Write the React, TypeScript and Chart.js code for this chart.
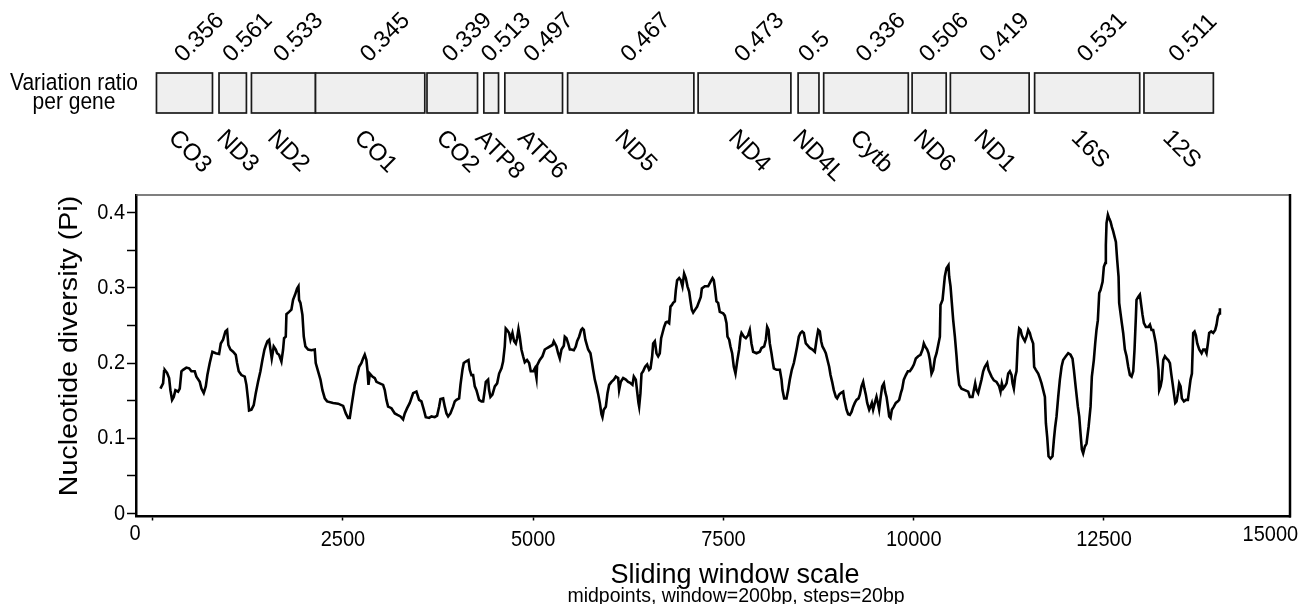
import React, { useEffect, useRef } from 'react';
import { Chart, registerables } from 'chart.js';

Chart.register(...registerables);

const FONT = '"Liberation Sans", Arial, Helvetica, sans-serif';

// Sliding-window midpoints (bp) and nucleotide diversity (Pi)
const POSITIONS = [
  101, 136, 149, 158, 188, 215, 232, 254, 276, 298, 333, 355, 377, 399, 442, 478, 508, 552, 574, 618,
  640, 670, 697, 718, 749, 784, 828, 872, 894, 924, 955, 977, 994, 1021, 1056, 1091, 1108, 1130, 1165, 1209,
  1231, 1253, 1266, 1297, 1327, 1354, 1384, 1415, 1441, 1468, 1485, 1507, 1529, 1547, 1564, 1590, 1617, 1634, 1660, 1691,
  1713, 1726, 1748, 1757, 1792, 1822, 1844, 1871, 1897, 1915, 1923, 1941, 1967, 1985, 2006, 2042, 2085, 2129, 2142, 2173,
  2204, 2230, 2261, 2291, 2370, 2436, 2502, 2537, 2567, 2589, 2611, 2655, 2686, 2712, 2743, 2764, 2786, 2808, 2821, 2835,
  2852, 2887, 2918, 2940, 2983, 3027, 3049, 3071, 3093, 3137, 3181, 3216, 3255, 3290, 3312, 3343, 3378, 3422, 3465, 3500,
  3531, 3562, 3588, 3632, 3663, 3706, 3737, 3763, 3781, 3816, 3838, 3860, 3882, 3912, 3947, 3969, 3991, 4026, 4044, 4070,
  4087, 4114, 4149, 4166, 4188, 4210, 4232, 4254, 4289, 4320, 4342, 4363, 4377, 4407, 4420, 4438, 4464, 4495, 4526, 4552,
  4583, 4604, 4626, 4639, 4657, 4683, 4701, 4727, 4749, 4771, 4788, 4806, 4823, 4845, 4867, 4889, 4919, 4946, 4968, 4999,
  5021, 5043, 5051, 5086, 5121, 5152, 5183, 5218, 5253, 5270, 5305, 5327, 5349, 5371, 5402, 5415, 5437, 5459, 5481, 5503,
  5533, 5559, 5577, 5603, 5630, 5647, 5665, 5685, 5722, 5752, 5770, 5787, 5809, 5831, 5853, 5875, 5897, 5910, 5927, 5954,
  5976, 5998, 6028, 6059, 6085, 6116, 6129, 6151, 6182, 6217, 6247, 6269, 6304, 6322, 6348, 6366, 6383, 6392, 6409, 6423,
  6444, 6471, 6497, 6523, 6541, 6563, 6576, 6598, 6620, 6642, 6663, 6681, 6699, 6720, 6742, 6760, 6786, 6804, 6821, 6839,
  6861, 6874, 6891, 6918, 6940, 6961, 6983, 7005, 7027, 7049, 7067, 7084, 7102, 7128, 7154, 7202, 7216, 7255, 7299, 7329,
  7356, 7373, 7391, 7408, 7430, 7452, 7496, 7518, 7540, 7553, 7575, 7592, 7614, 7636, 7658, 7680, 7706, 7724, 7737, 7768,
  7794, 7824, 7846, 7868, 7890, 7934, 7978, 8000, 8035, 8057, 8074, 8092, 8109, 8131, 8144, 8162, 8197, 8241, 8263, 8276,
  8298, 8328, 8350, 8372, 8398, 8425, 8451, 8468, 8490, 8512, 8534, 8556, 8582, 8600, 8635, 8670, 8701, 8723, 8745, 8766,
  8784, 8801, 8823, 8845, 8867, 8889, 8907, 8928, 8950, 8977, 8994, 9020, 9042, 9073, 9086, 9099, 9117, 9139, 9161, 9183,
  9205, 9226, 9248, 9275, 9292, 9314, 9336, 9353, 9371, 9389, 9415, 9432, 9450, 9467, 9489, 9511, 9529, 9546, 9564, 9586,
  9608, 9625, 9643, 9664, 9678, 9695, 9713, 9739, 9765, 9792, 9809, 9831, 9849, 9870, 9897, 9923, 9949, 9976, 10002, 10028,
  10059, 10089, 10116, 10133, 10151, 10177, 10195, 10212, 10234, 10256, 10278, 10300, 10322, 10344, 10352, 10379, 10409, 10431, 10457, 10466,
  10484, 10501, 10519, 10541, 10563, 10576, 10598, 10628, 10672, 10716, 10738, 10773, 10790, 10808, 10825, 10847, 10869, 10891, 10913, 10935,
  10966, 10983, 11023, 11053, 11088, 11123, 11141, 11158, 11176, 11198, 11220, 11242, 11264, 11286, 11299, 11316, 11334, 11351, 11369, 11386,
  11404, 11421, 11439, 11461, 11483, 11505, 11526, 11544, 11570, 11583, 11605, 11636, 11658, 11680, 11702, 11724, 11737, 11754, 11772, 11798,
  11824, 11842, 11859, 11877, 11899, 11921, 11943, 11964, 11999, 12030, 12061, 12087, 12105, 12131, 12157, 12175, 12192, 12210, 12227, 12249,
  12271, 12298, 12324, 12341, 12367, 12385, 12402, 12420, 12438, 12455, 12482, 12499, 12517, 12525, 12534, 12552, 12569, 12587, 12604, 12622,
  12639, 12657, 12674, 12692, 12700, 12718, 12735, 12753, 12775, 12797, 12819, 12841, 12863, 12885, 12902, 12920, 12928, 12950, 12972, 12990,
  13007, 13025, 13051, 13082, 13104, 13125, 13147, 13165, 13182, 13200, 13217, 13226, 13244, 13261, 13279, 13301, 13323, 13345, 13367, 13384,
  13402, 13419, 13437, 13454, 13472, 13489, 13507, 13524, 13551, 13577, 13603, 13620, 13638, 13656, 13673, 13691, 13708, 13726, 13752, 13783,
  13805, 13826, 13848, 13866, 13883, 13910, 13936, 13962, 13980, 13997, 14015, 14024,
];

const PI = [
  0.166, 0.173, 0.189, 0.191, 0.187, 0.180, 0.164, 0.151, 0.155, 0.164, 0.162, 0.166, 0.189, 0.191, 0.194, 0.193, 0.189, 0.189, 0.182, 0.175,
  0.166, 0.160, 0.169, 0.184, 0.200, 0.215, 0.213, 0.212, 0.226, 0.231, 0.242, 0.244, 0.224, 0.218, 0.215, 0.211, 0.200, 0.189, 0.184, 0.182,
  0.171, 0.151, 0.137, 0.138, 0.144, 0.160, 0.175, 0.189, 0.204, 0.218, 0.223, 0.229, 0.231, 0.218, 0.206, 0.222, 0.218, 0.213, 0.211, 0.202,
  0.218, 0.233, 0.235, 0.265, 0.268, 0.271, 0.284, 0.291, 0.299, 0.302, 0.284, 0.280, 0.264, 0.235, 0.222, 0.218, 0.217, 0.218, 0.200, 0.189,
  0.178, 0.164, 0.153, 0.149, 0.147, 0.146, 0.143, 0.133, 0.127, 0.127, 0.142, 0.171, 0.184, 0.195, 0.200, 0.206, 0.211, 0.204, 0.191, 0.171,
  0.186, 0.182, 0.180, 0.175, 0.173, 0.171, 0.164, 0.151, 0.142, 0.140, 0.133, 0.131, 0.129, 0.125, 0.133, 0.140, 0.147, 0.160, 0.162, 0.151,
  0.149, 0.138, 0.128, 0.127, 0.129, 0.128, 0.130, 0.142, 0.152, 0.153, 0.142, 0.133, 0.129, 0.133, 0.142, 0.149, 0.151, 0.153, 0.171, 0.191,
  0.200, 0.202, 0.204, 0.191, 0.184, 0.184, 0.169, 0.164, 0.151, 0.149, 0.149, 0.164, 0.175, 0.178, 0.164, 0.155, 0.158, 0.169, 0.173, 0.186,
  0.193, 0.202, 0.222, 0.246, 0.244, 0.240, 0.231, 0.240, 0.229, 0.226, 0.233, 0.245, 0.235, 0.218, 0.209, 0.201, 0.204, 0.200, 0.189, 0.189,
  0.193, 0.180, 0.197, 0.204, 0.209, 0.218, 0.220, 0.222, 0.224, 0.229, 0.222, 0.213, 0.206, 0.218, 0.223, 0.235, 0.233, 0.226, 0.218, 0.218,
  0.217, 0.222, 0.229, 0.235, 0.244, 0.246, 0.244, 0.231, 0.218, 0.213, 0.202, 0.191, 0.178, 0.169, 0.159, 0.147, 0.132, 0.128, 0.138, 0.142,
  0.160, 0.171, 0.175, 0.178, 0.182, 0.180, 0.164, 0.175, 0.180, 0.178, 0.175, 0.174, 0.171, 0.182, 0.178, 0.162, 0.147, 0.142, 0.160, 0.186,
  0.189, 0.195, 0.198, 0.191, 0.193, 0.209, 0.226, 0.229, 0.213, 0.209, 0.213, 0.233, 0.240, 0.248, 0.254, 0.255, 0.253, 0.275, 0.277, 0.280,
  0.282, 0.297, 0.310, 0.313, 0.310, 0.302, 0.319, 0.313, 0.302, 0.295, 0.282, 0.271, 0.267, 0.271, 0.275, 0.288, 0.299, 0.302, 0.302, 0.308,
  0.313, 0.310, 0.297, 0.282, 0.280, 0.268, 0.266, 0.263, 0.253, 0.235, 0.231, 0.222, 0.213, 0.195, 0.186, 0.202, 0.218, 0.235, 0.240, 0.235,
  0.233, 0.237, 0.244, 0.226, 0.215, 0.213, 0.215, 0.220, 0.222, 0.231, 0.248, 0.244, 0.226, 0.213, 0.204, 0.193, 0.191, 0.191, 0.178, 0.164,
  0.153, 0.153, 0.164, 0.178, 0.191, 0.200, 0.213, 0.222, 0.235, 0.240, 0.242, 0.240, 0.226, 0.224, 0.220, 0.218, 0.215, 0.231, 0.244, 0.242,
  0.229, 0.222, 0.218, 0.213, 0.204, 0.195, 0.184, 0.175, 0.164, 0.155, 0.153, 0.158, 0.160, 0.162, 0.153, 0.147, 0.138, 0.132, 0.131, 0.135,
  0.142, 0.147, 0.151, 0.153, 0.158, 0.169, 0.175, 0.166, 0.158, 0.147, 0.138, 0.142, 0.147, 0.138, 0.147, 0.155, 0.147, 0.138, 0.153, 0.169,
  0.173, 0.162, 0.155, 0.140, 0.129, 0.127, 0.138, 0.142, 0.147, 0.149, 0.151, 0.160, 0.166, 0.178, 0.184, 0.189, 0.189, 0.193, 0.198, 0.206,
  0.209, 0.211, 0.218, 0.226, 0.222, 0.218, 0.213, 0.204, 0.186, 0.191, 0.206, 0.213, 0.224, 0.235, 0.277, 0.284, 0.315, 0.326, 0.330, 0.315,
  0.302, 0.280, 0.257, 0.235, 0.209, 0.191, 0.171, 0.166, 0.164, 0.162, 0.155, 0.155, 0.164, 0.173, 0.164, 0.160, 0.169, 0.178, 0.189, 0.195,
  0.200, 0.191, 0.182, 0.177, 0.175, 0.169, 0.162, 0.173, 0.166, 0.169, 0.173, 0.186, 0.189, 0.184, 0.173, 0.166, 0.182, 0.189, 0.231, 0.246,
  0.244, 0.237, 0.233, 0.229, 0.235, 0.244, 0.240, 0.233, 0.226, 0.195, 0.191, 0.186, 0.180, 0.173, 0.164, 0.155, 0.120, 0.102, 0.076, 0.073,
  0.076, 0.098, 0.115, 0.129, 0.155, 0.178, 0.195, 0.204, 0.209, 0.213, 0.211, 0.206, 0.191, 0.166, 0.142, 0.129, 0.107, 0.085, 0.080, 0.089,
  0.093, 0.115, 0.142, 0.182, 0.204, 0.226, 0.244, 0.257, 0.293, 0.297, 0.308, 0.328, 0.333, 0.357, 0.386, 0.397, 0.392, 0.388, 0.381, 0.375,
  0.368, 0.361, 0.337, 0.315, 0.280, 0.266, 0.253, 0.240, 0.218, 0.209, 0.195, 0.184, 0.182, 0.189, 0.218, 0.262, 0.284, 0.288, 0.291, 0.277,
  0.264, 0.253, 0.248, 0.248, 0.251, 0.244, 0.244, 0.235, 0.226, 0.209, 0.191, 0.164, 0.169, 0.178, 0.204, 0.209, 0.206, 0.204, 0.200, 0.186,
  0.173, 0.160, 0.147, 0.149, 0.160, 0.173, 0.169, 0.153, 0.149, 0.151, 0.151, 0.164, 0.178, 0.186, 0.240, 0.242, 0.237, 0.226, 0.218, 0.213,
  0.218, 0.218, 0.213, 0.226, 0.240, 0.242, 0.240, 0.244, 0.251, 0.262, 0.266, 0.273,
];

// Genes: name, start/end (bp) and variation ratio
const GENE_NAMES = ['CO3', 'ND3', 'ND2', 'CO1', 'CO2', 'ATP8', 'ATP6', 'ND5', 'ND4', 'ND4L', 'Cytb', 'ND6', 'ND1', '16S', '12S'];
const GENE_START = [49, 871, 1297, 2139, 3604, 4351, 4627, 5452, 7167, 8481, 8817, 9979, 10482, 11589, 13026];
const GENE_END = [785, 1231, 2139, 3575, 4268, 4544, 5385, 7111, 8386, 8755, 9929, 10427, 11517, 12970, 13938];
const GENE_RATIO = [0.356, 0.561, 0.533, 0.345, 0.339, 0.513, 0.497, 0.467, 0.473, 0.5, 0.336, 0.506, 0.419, 0.531, 0.511];

const X_TICKS = [0, 2500, 5000, 7500, 10000, 12500, 15000];
const X_TICK_LABELS = ['0', '2500', '5000', '7500', '10000', '12500', '15000'];
const Y_TICKS = [0, 0.05, 0.1, 0.15, 0.2, 0.25, 0.3, 0.35, 0.4];
const Y_TICK_LABELS = ['0', '', '0.1', '', '0.2', '', '0.3', '', '0.4'];

const X_MIN = -220;
const X_MAX = 14945;
const Y_MIN = -0.004;
const Y_MAX = 0.4234;

const SY = 1.1; // the figure's text is slightly taller than wide

function drawText(
  ctx: CanvasRenderingContext2D,
  text: string,
  x: number,
  y: number,
  size: number,
  align: CanvasTextAlign,
  baseline: CanvasTextBaseline,
  angle = 0,
  sy = SY,
) {
  ctx.save();
  ctx.translate(x, y);
  ctx.scale(1, sy);
  ctx.rotate(angle);
  ctx.font = `${size}px ${FONT}`;
  ctx.textAlign = align;
  ctx.textBaseline = baseline;
  ctx.fillStyle = '#000';
  ctx.fillText(text, 0, 0);
  ctx.restore();
}

const decorPlugin = {
  id: 'decor',
  afterDraw(chart: any) {
    const ctx: CanvasRenderingContext2D = chart.ctx;
    const { left, right, top, bottom } = chart.chartArea;
    const xs = chart.scales.x;
    const ys = chart.scales.y;
    ctx.save();

    // frame: top (thin, grey) and right
    ctx.strokeStyle = '#555';
    ctx.lineWidth = 1.5;
    ctx.beginPath();
    ctx.moveTo(left, top);
    ctx.lineTo(right, top);
    ctx.stroke();
    ctx.strokeStyle = '#000';
    ctx.lineWidth = 2.5;
    ctx.beginPath();
    ctx.moveTo(right, top - 1);
    ctx.lineTo(right, bottom + 1);
    ctx.stroke();

    // y tick labels
    Y_TICKS.forEach((v, i) => {
      if (!Y_TICK_LABELS[i]) return;
      drawText(ctx, Y_TICK_LABELS[i], left - 11, ys.getPixelForValue(v), 20, 'right', 'middle');
    });

    // x tick labels
    X_TICKS.forEach((v, i) => {
      const px = xs.getPixelForValue(v);
      if (i === 0) {
        drawText(ctx, X_TICK_LABELS[i], left - 1, bottom + 17, 20, 'center', 'middle');
      } else if (i === X_TICKS.length - 1) {
        drawText(ctx, X_TICK_LABELS[i], px + 4, bottom + 18, 20, 'right', 'middle');
      } else {
        drawText(ctx, X_TICK_LABELS[i], px, bottom + 23, 20, 'center', 'middle');
      }
    });

    // axis titles
    drawText(ctx, 'Sliding window scale', 735, 583, 27, 'center', 'alphabetic', 0, 1.0);
    drawText(ctx, 'midpoints, window=200bp, steps=20bp', 736, 602, 19.5, 'center', 'alphabetic', 0, 1.0);
    drawText(ctx, 'Nucleotide diversity (Pi)', 70, 346, 26, 'center', 'middle', -Math.PI / 2);

    // gene track label
    drawText(ctx, 'Variation ratio', 74, 90, 21, 'center', 'alphabetic');
    drawText(ctx, 'per gene', 74, 109, 21, 'center', 'alphabetic');

    // gene boxes
    const boxTop = 73;
    const boxBottom = 113;
    GENE_NAMES.forEach((name, i) => {
      const x1 = xs.getPixelForValue(GENE_START[i]);
      const x2 = xs.getPixelForValue(GENE_END[i]);
      ctx.fillStyle = '#efefef';
      ctx.fillRect(x1, boxTop, x2 - x1, boxBottom - boxTop);
      ctx.strokeStyle = '#1a1a1a';
      ctx.lineWidth = 1.7;
      ctx.strokeRect(x1, boxTop, x2 - x1, boxBottom - boxTop);
      const cx = (x1 + x2) / 2;
      drawText(ctx, String(GENE_RATIO[i]), cx - 1, 63, 23.5, 'left', 'alphabetic', -Math.PI / 4, 1);
      drawText(ctx, name, cx - 17, 139, 24, 'left', 'alphabetic', Math.PI / 4, 1);
    });

    ctx.restore();
  },
};

export default function App() {
  const ref = useRef<HTMLCanvasElement>(null);

  useEffect(() => {
    const canvas = ref.current;
    if (!canvas) return;
    const chart = new Chart(canvas, {
      type: 'line',
      data: {
        datasets: [
          {
            data: POSITIONS.map((x, i) => ({ x, y: PI[i] })),
            borderColor: '#000',
            borderWidth: 2.6,
            pointRadius: 0,
            tension: 0,
            fill: false,
          },
        ],
      },
      options: {
        animation: false,
        responsive: false,
        maintainAspectRatio: false,
        layout: { padding: { top: 195, right: 17, left: 0, bottom: 0 } },
        plugins: { legend: { display: false }, tooltip: { enabled: false }, title: { display: false } },
        scales: {
          x: {
            type: 'linear',
            min: X_MIN,
            max: X_MAX,
            afterBuildTicks: (s: any) => {
              s.ticks = X_TICKS.filter((v) => v >= X_MIN && v <= X_MAX).map((v) => ({ value: v }));
            },
            afterFit: (s: any) => {
              s.height = 87.5;
            },
            ticks: { display: false },
            grid: { drawOnChartArea: false, drawTicks: true, tickLength: 4, tickWidth: 1.5, color: '#000' },
            border: { display: true, color: '#000', width: 2.5 },
          },
          y: {
            type: 'linear',
            min: Y_MIN,
            max: Y_MAX,
            afterBuildTicks: (s: any) => {
              s.ticks = Y_TICKS.map((v) => ({ value: v }));
            },
            afterFit: (s: any) => {
              s.width = 136;
            },
            ticks: { display: false },
            grid: { drawOnChartArea: false, drawTicks: true, tickLength: 9, tickWidth: 1.5, color: '#000' },
            border: { display: true, color: '#000', width: 2.5 },
          },
        },
      },
      plugins: [decorPlugin],
    });
    return () => chart.destroy();
  }, []);

  return (
    <div style={{ position: 'fixed', left: 0, top: 0, width: 1307, height: 604, background: '#fff' }}>
      <canvas ref={ref} width={1307} height={604} style={{ width: 1307, height: 604, display: 'block' }} />
    </div>
  );
}
